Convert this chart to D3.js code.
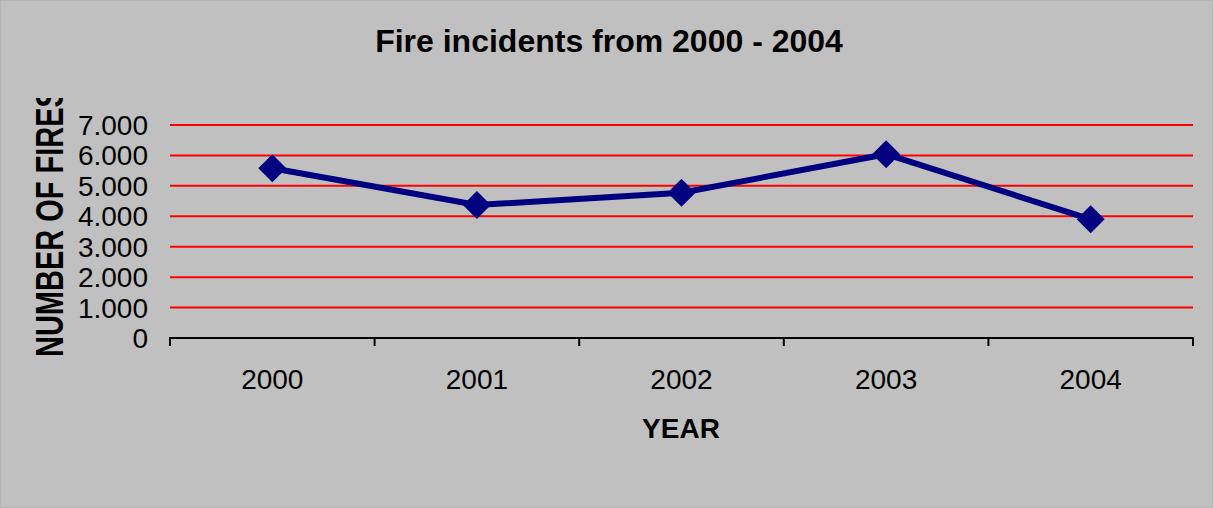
<!DOCTYPE html>
<html><head><meta charset="utf-8">
<script src="https://cdn.jsdelivr.net/npm/d3@7"></script>
<style>body{margin:0;background:#c0c0c0;} svg{display:block;}</style>
</head><body>
<svg id="c" width="1213" height="508"></svg>
<script>
const years = ["2000","2001","2002","2003","2004"];
const fires = [5580, 4370, 4775, 6040, 3900];
const yTicks = [0,1000,2000,3000,4000,5000,6000,7000];
const title = "Fire incidents from 2000 - 2004";
const xTitle = "YEAR";
const yTitle = "NUMBER OF FIRES";

const FONT = "Liberation Sans, Arial, sans-serif";
const svg = d3.select("#c");
const W = 1213, H = 508;
svg.append("rect").attr("x",0.5).attr("y",0.5).attr("width",W-1).attr("height",H-1)
  .attr("fill","#c0c0c0").attr("stroke","#b4b4b4");

const m = {l:170, r:1193, t:125, b:338};
const x = d3.scaleBand().domain(years).range([m.l, m.r]);
const y = d3.scaleLinear().domain([0,7000]).range([m.b, m.t]);
const fmt = d => d===0 ? "0" : d3.format(",")(d).replace(/,/g,".");

// gridlines
svg.append("g").selectAll("line").data(yTicks.filter(d=>d>0)).join("line")
  .attr("x1",m.l).attr("x2",m.r).attr("y1",d=>y(d)).attr("y2",d=>y(d))
  .attr("stroke","#ff0000").attr("stroke-width",2);

// y labels
svg.append("g").selectAll("text").data(yTicks).join("text")
  .attr("x",148).attr("y",d=>y(d)+10).attr("text-anchor","end")
  .attr("font-family",FONT).attr("font-size",28)
  .attr("fill","#000").text(fmt);

// x axis
const xa = svg.append("g").attr("transform",`translate(0,${m.b})`)
  .call(d3.axisBottom(x).tickSize(0).tickFormat(""));
xa.select(".domain").remove();
xa.append("line").attr("x1",m.l-1).attr("x2",m.r+1).attr("stroke","#000").attr("stroke-width",2);
const bounds = years.map(d=>x(d)).concat([m.r]);
xa.selectAll(".tk").data(bounds).join("line").attr("class","tk")
  .attr("x1",d=>d).attr("x2",d=>d).attr("y1",0).attr("y2",8).attr("stroke","#000").attr("stroke-width",2);
svg.append("g").selectAll("text").data(years).join("text")
  .attr("x",d=>x(d)+x.bandwidth()/2).attr("y",389).attr("text-anchor","middle")
  .attr("font-family",FONT).attr("font-size",28).text(d=>d);

// line
const line = d3.line().x((d,i)=>x(years[i])+x.bandwidth()/2).y(d=>y(d));
svg.append("path").datum(fires).attr("d",line).attr("fill","none")
  .attr("stroke","#000080").attr("stroke-width",6).attr("stroke-linejoin","miter");
svg.append("g").selectAll("path").data(fires).join("path")
  .attr("transform",(d,i)=>`translate(${x(years[i])+x.bandwidth()/2},${y(d)})`)
  .attr("d","M0,-14L14,0L0,14L-14,0Z").attr("fill","#000080");

// titles
svg.append("text").attr("x",609).attr("y",52).attr("text-anchor","middle")
  .attr("font-family",FONT).attr("font-weight","bold")
  .attr("font-size",32).text(title);
svg.append("text").attr("x",681).attr("y",438).attr("text-anchor","middle")
  .attr("font-family",FONT).attr("font-weight","bold")
  .attr("font-size",28).text(xTitle);
svg.append("clipPath").attr("id","yc").append("rect")
  .attr("x",0).attr("y",98).attr("width",100).attr("height",400);
svg.append("g").attr("clip-path","url(#yc)").append("text")
  .attr("transform","translate(63,357) rotate(-90) scale(1,1.35)").attr("text-anchor","start")
  .attr("font-family",FONT).attr("font-weight","bold")
  .attr("font-size",29).text(yTitle);
</script>
</body></html>
